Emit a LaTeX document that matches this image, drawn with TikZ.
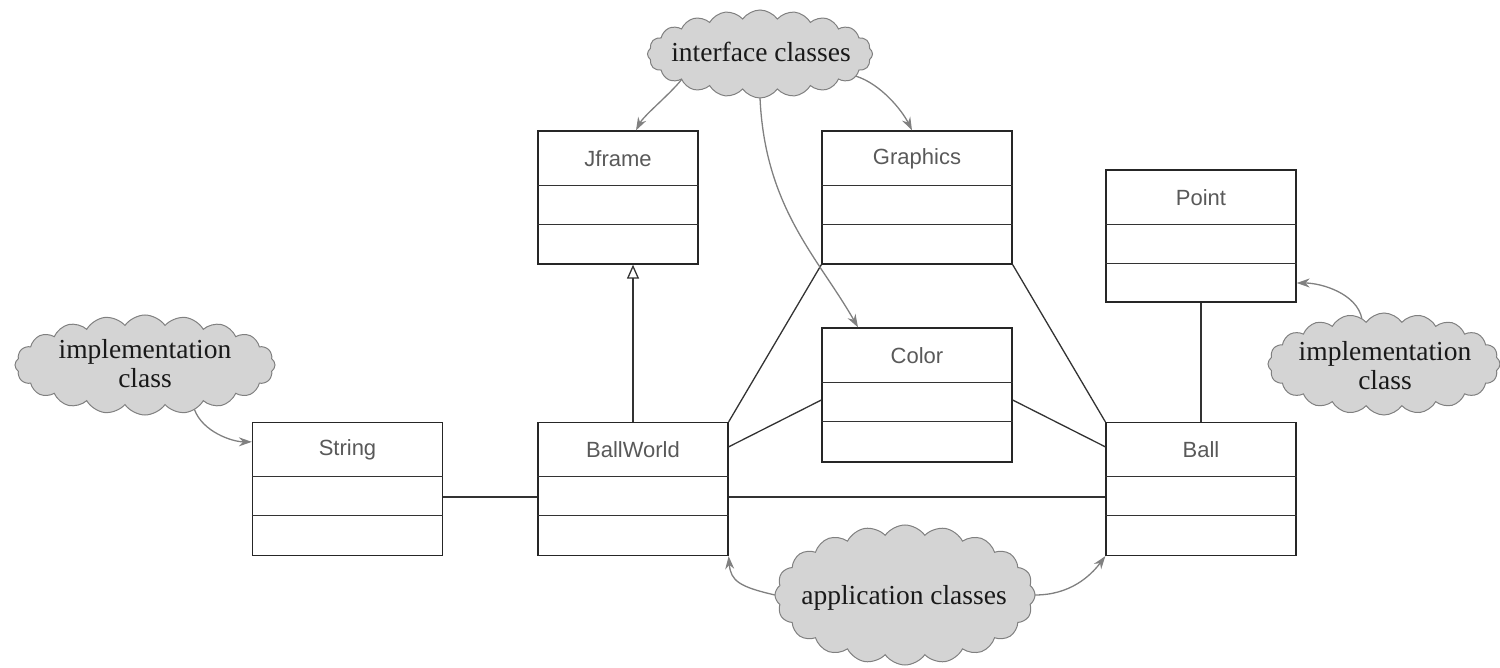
\documentclass[tikz,border=0pt]{standalone}
\usepackage{fontspec}
\setmainfont{Liberation Serif}
\newfontfamily\classfont{Liberation Sans}
\usetikzlibrary{shapes.symbols,arrows.meta}

\begin{document}
\begin{tikzpicture}[x=1pt,y=-1pt,
  classbox/.style={draw=black!85, line width=1.3pt, minimum width=190pt,
    minimum height=133pt, inner sep=0pt},
  divider/.style={draw=black!80, line width=1.2pt},
  classname/.style={font=\classfont\fontsize{22}{24}\selectfont, text=black!65},
  assoc/.style={draw=black!80, line width=1.3pt},
  inherit/.style={assoc, -{Triangle[open, length=14pt, width=12pt]}},
  cloudnote/.style={cloud, cloud puffs=20, cloud puff arc=110, cloud ignores aspect,
    draw=black!50, line width=1pt, fill=black!17, inner sep=0pt, outer sep=0pt},
  notetext/.style={align=center, inner sep=0pt,
    font=\fontsize{27.5}{29}\selectfont, text=black!90},
  note/.style={draw=black!50, line width=1.3pt, -{Stealth[length=13pt, width=9pt]}}]

\useasboundingbox (0,0) rectangle (1500,668);

% class boxes: name compartment, attributes, operations
\node[classbox, minimum width=160pt] (Jframe) at (618,197.5) {};
\node[classbox] (Graphics) at (917,197.5) {};
\node[classbox, minimum height=132pt] (Point) at (1201,236) {};
\node[classbox, minimum height=134pt] (Color) at (917,395) {};
\node[classbox] (String) at (347.5,489) {};
\node[classbox] (BallWorld) at (633,489) {};
\node[classbox] (Ball) at (1201,489) {};

\foreach \c in {Jframe,Graphics,Point,Color,String,BallWorld,Ball}{
  \draw[divider] ([yshift=-55pt]\c.north west) -- ([yshift=-55pt]\c.north east);
  \draw[divider] ([yshift=-94pt]\c.north west) -- ([yshift=-94pt]\c.north east);
  \node[classname] (\c-name) at ([yshift=-28pt]\c.north) {\c};
}

% associations and generalisation
\draw[assoc] ([yshift=-8pt]String.east) -- ([yshift=-8pt]BallWorld.west);
\draw[assoc] ([yshift=-8pt]BallWorld.east) -- ([yshift=-8pt]Ball.west);
\draw[inherit] (BallWorld.north) -- (BallWorld.north |- Jframe.south);
\draw[assoc] (BallWorld.north east) -- (Graphics.south west);
\draw[assoc] ([yshift=-25pt]BallWorld.north east) -- ([yshift=-5pt]Color.west);
\draw[assoc] (Graphics.south east) -- (Ball.north west);
\draw[assoc] ([yshift=-5pt]Color.east) -- ([yshift=-25pt]Ball.north west);
\draw[assoc] (Point.south) -- (Ball.north);

% annotation clouds with their texts
\node[cloudnote, minimum width=225pt, minimum height=88pt] (icl) at (760,54) {};
\node[notetext] (icl-text) at (761,52) {interface classes};
\node[cloudnote, minimum width=260pt, minimum height=100pt] (lcl) at (145,365) {};
\node[notetext] (lcl-text) at (145,364) {implementation\\class};
\node[cloudnote, minimum width=232pt, minimum height=102pt] (rcl) at (1384,364) {};
\node[notetext] (rcl-text) at (1385,366) {implementation\\class};
\node[cloudnote, minimum width=260pt, minimum height=140pt] (acl) at (905,595) {};
\node[notetext] (acl-text) at (904,598) {application classes};

% annotation arrows
\draw[note] (icl.198) .. controls +(-12,15) and +(8,-15) .. ([xshift=18pt]Jframe.north);
\draw[note] (icl.-13) .. controls +(25,8) and +(-10,-20) .. ([xshift=-5pt]Graphics.north);
\draw[note] (icl.south) .. controls +(5,110) and +(-40,-70) .. ([xshift=-59pt]Color.north);
\draw[note] (lcl.-42) .. controls +(8,22) and +(-20,0) .. ([yshift=-20pt]String.north west);
\draw[note] (rcl.116) .. controls +(-5,-25) and +(25,0) .. ([yshift=-47pt]Point.east);
\draw[note] (acl.west) .. controls +(-35,-8) and +(2,25) .. (BallWorld.south east);
\draw[note] (acl.east) .. controls +(35,0) and +(-15,20) .. (Ball.south west);

\end{tikzpicture}
\end{document}
